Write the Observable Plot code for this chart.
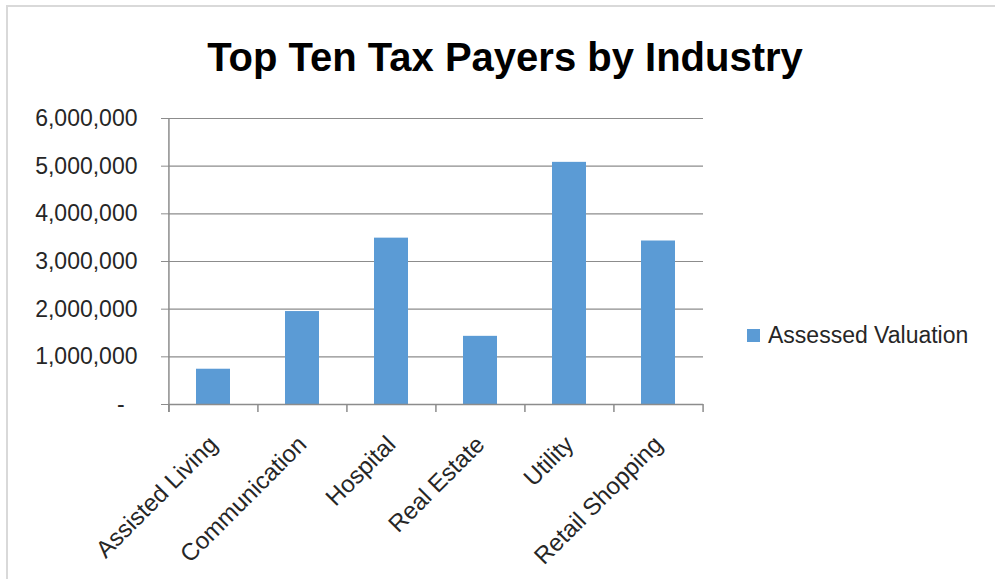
<!DOCTYPE html>
<html>
<head>
<meta charset="utf-8">
<script src="https://cdn.jsdelivr.net/npm/d3@7"></script>
<script src="https://cdn.jsdelivr.net/npm/@observablehq/plot@0.6"></script>
<style>
  html, body { margin: 0; padding: 0; background: #fff; }
  #wrap { position: relative; width: 995px; height: 579px; overflow: hidden; background: #fff; font-family: "Liberation Sans", Arial, sans-serif; }
  #frame { position: absolute; left: 6px; top: 5px; width: 1200px; height: 800px; border-left: 2px solid #d9d9d9; border-top: 2px solid #d9d9d9; }
  #title { position: absolute; left: 0; width: 1010px; top: 33px; text-align: center; font-size: 40px; font-weight: bold; color: #000; line-height: 48px; white-space: nowrap; }
  #chart { position: absolute; left: 0; top: 90px; }
  #legend { position: absolute; left: 747px; top: 322px; display: flex; align-items: center; font-size: 23px; color: #262626; white-space: nowrap; }
  #legend .sw { width: 13px; height: 13px; background: #5B9BD5; margin-right: 8px; }
</style>
</head>
<body>
<div id="wrap">
  <div id="frame"></div>
  <div id="title">Top Ten Tax Payers by Industry</div>
  <div id="chart"></div>
  <div id="legend"><div class="sw"></div><span id="legendLabel"></span></div>
</div>
<script>
const title = "Top Ten Tax Payers by Industry";
const seriesName = "Assessed Valuation";
const industries = ["Assisted Living", "Communication", "Hospital", "Real Estate", "Utility", "Retail Shopping"];
const valuations = [740000, 1950000, 3490000, 1430000, 5080000, 3430000];
const yTicks = [0, 1000000, 2000000, 3000000, 4000000, 5000000, 6000000];

document.getElementById("title").textContent = title;
document.getElementById("legendLabel").textContent = seriesName;

const data = industries.map((c, i) => ({industry: c, value: valuations[i]}));

const W = 720, H = 489;
const mL = 168, mR = 17, mT = 28, mB = 175;
const step = (W - mL - mR) / industries.length;
const grid = "#8c8c8c";
const fmt = d3.format(",");

const chart = Plot.plot({
  width: W,
  height: H,
  marginLeft: mL,
  marginRight: mR,
  marginTop: mT,
  marginBottom: mB,
  style: {fontFamily: "'Liberation Sans', Arial, sans-serif", fontSize: "23px", color: "#262626", background: "transparent", overflow: "visible"},
  x: {domain: industries, paddingInner: 0.62, paddingOuter: 0.31, label: null},
  y: {domain: [0, 6000000], label: null},
  marks: [
    Plot.ruleY(yTicks, {stroke: grid, strokeWidth: 1.2, strokeOpacity: 1}),
    Plot.barY(data, {x: "industry", y: "value", fill: "#5B9BD5"}),
    Plot.ruleY([0], {stroke: grid, strokeWidth: 1.5}),
    Plot.ruleX(industries, {x: d => d, y1: 0, y2: 0, insetBottom: -8, dx: -step / 2, stroke: grid, strokeWidth: 1.5}),
    Plot.ruleX(industries.slice(-1), {x: d => d, y1: 0, y2: 0, insetBottom: -8, dx: step / 2, stroke: grid, strokeWidth: 1.5}),
    Plot.ruleX(industries.slice(0, 1), {x: d => d, y1: 6000000, y2: 0, insetBottom: -8, dx: -step / 2, stroke: grid, strokeWidth: 1.5}),
    Plot.axisY({ticks: yTicks, tickSize: 7, tickPadding: 24, stroke: grid, strokeOpacity: 1, tickFormat: d => d === 0 ? "-\u2007" : fmt(d), fill: "#262626"}),
    Plot.axisX({tickSize: 0, tickPadding: 36, tickRotate: -45, fontSize: 24, fill: "#262626"})
  ]
});
document.getElementById("chart").appendChild(chart);
</script>
</body>
</html>
